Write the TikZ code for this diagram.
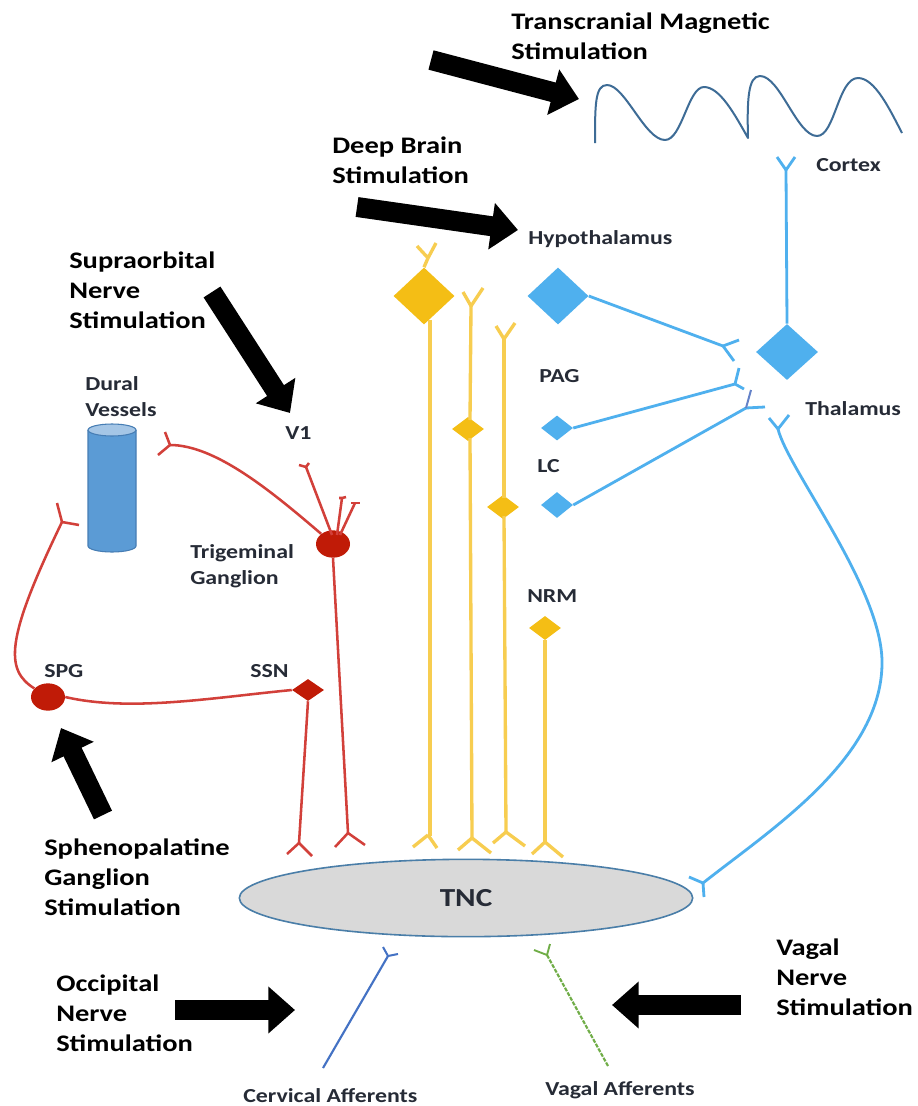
\documentclass[tikz,border=0pt]{standalone}
\usepackage{fontspec}
\setmainfont[FakeStretch=1.2]{Carlito}
\usetikzlibrary{arrows.meta,shapes.geometric,calc}
\definecolor{axon}{HTML}{4FB0EE}
\definecolor{gold}{HTML}{F4BE15}
\definecolor{goldl}{HTML}{F7CD50}
\definecolor{redd}{HTML}{C01B07}
\definecolor{redl}{HTML}{D2403A}
\definecolor{txt}{HTML}{262B36}
\definecolor{wave}{HTML}{3E6C96}
\definecolor{tncedge}{HTML}{4A7EA8}
\definecolor{tncfill}{HTML}{D9D9D9}
\definecolor{cyl}{HTML}{5B9BD5}
\definecolor{cyle}{HTML}{467DB4}
\definecolor{cylt}{HTML}{A5C6E6}
\definecolor{cerv}{HTML}{4472C4}
\definecolor{vaga}{HTML}{70AD47}
\definecolor{purp}{HTML}{6482C8}
\tikzset{
 x=0.75pt,y=-0.75pt,
 big/.style={font=\fontsize{17.8}{22.5}\selectfont\bfseries,text=black,align=left,anchor=west,inner sep=0pt},
 small/.style={font=\fontsize{14.9}{19.5}\selectfont\bfseries,text=txt,align=left,anchor=west,inner sep=0pt},
 blockarrow/.style={line width=15pt,draw=black,-{Triangle[length=20pt,width=34pt]}},
 yline/.style={draw=goldl,line width=2.5pt},
 bline/.style={draw=axon,line width=2.1pt},
 rline/.style={draw=redl,line width=1.9pt},
 dia/.style 2 args={diamond,draw=none,inner sep=0pt,minimum width=#1*0.75pt,minimum height=#2*0.75pt},
 ydia/.style 2 args={dia={#1}{#2},fill=gold},
 bdia/.style 2 args={dia={#1}{#2},fill=axon},
 rdia/.style 2 args={dia={#1}{#2},fill=redd},
 redball/.style={ellipse,fill=redd,draw=none,minimum width=25.5pt,minimum height=20.5pt,inner sep=0pt},
}
\newcommand{\fork}[4]{\draw[#1] (#2) -- (#3) (#2) -- (#4);}
\begin{document}
\begin{tikzpicture}
\useasboundingbox (0,0) rectangle (917,1106);
\fill[white] (0,0) rectangle (917,1106);

% block arrows
\coordinate (a1s) at (431,60); \coordinate (a1e) at (579,99);
\coordinate (a2s) at (357,207); \coordinate (a2e) at (518,230);
\coordinate (a3s) at (212,292); \coordinate (a3e) at (290,413);
\coordinate (a4s) at (103,815); \coordinate (a4e) at (61,728);
\coordinate (a5s) at (175,1010); \coordinate (a5e) at (295,1010);
\coordinate (a6s) at (741,1005); \coordinate (a6e) at (612,1005);
\foreach \n in {1,...,6} \draw[blockarrow] (a\n s) -- (a\n e);

% cortex wave
\draw[draw=wave,line width=1.5pt,line join=round]
 (595,143) .. controls (595,105) and (595,85) .. (607,85)
 .. controls (625,85) and (645,140) .. (665,140)
 .. controls (682,140) and (688,87) .. (704,87)
 .. controls (720,87) and (735,115) .. (748,138)
 .. controls (747,100) and (748,76) .. (760,76)
 .. controls (780,76) and (797,136) .. (817,136)
 .. controls (835,136) and (838,78) .. (858,78)
 .. controls (875,78) and (890,110) .. (902,133);

% TNC
\node[ellipse,draw=tncedge,fill=tncfill,line width=1.2pt,minimum width=340pt,minimum height=58pt,inner sep=0pt,font=\fontsize{19.5}{20}\selectfont\bfseries,text=txt] (tnc) at (466,898) {TNC};

% cylinder
\fill[cyl] (88,430) -- (88,546) arc[start angle=180,end angle=0,x radius=24,y radius=6] -- (136,430) -- cycle;
\draw[cyle,line width=.8pt] (88,430) -- (88,546) arc[start angle=180,end angle=0,x radius=24,y radius=6] -- (136,430);
\draw[cyle,fill=cylt,line width=.8pt] (112,430) ellipse[x radius=24,y radius=6];

% yellow neurons
\node[ydia={61}{57}] (ya) at (424,296) {};
\node[ydia={32}{24}] (yb) at (468,429) {};
\node[ydia={32}{24}] (yc) at (503,507) {};
\node[ydia={32}{24}] (yd) at (545,628) {};
\coordinate (ya1) at (428,258); \coordinate (ya2) at (430,836);
\coordinate (yb1) at (471,306); \coordinate (yb2) at (472,838);
\coordinate (yc1) at (504,339); \coordinate (yc2) at (506,832);
\coordinate (yd2) at (545,842);
\draw[yline] (ya.north) -- (ya1);
\draw[yline] (430,320) -- (ya2);
\draw[yline] (yb1) -- (470,420);
\draw[yline] (470,438) -- (yb2);
\draw[yline] (yc1) -- (504,498);
\draw[yline] (504,516) -- (yc2);
\draw[yline] (yd.south) -- (yd2);
\fork{yline}{ya1}{417,246}{436,243}
\fork{yline}{428,835}{413,847}{437,848}
\fork{yline}{yb1}{463,292}{483,288}
\fork{yline}{yb2}{458,850}{491,853}
\fork{yline}{yc1}{496,326}{515,323}
\fork{yline}{yc2}{493,843}{525,846}
\fork{yline}{yd2}{532,854}{563,857}

% blue neurons
\node[bdia={61}{57}] (ba) at (558,296) {};
\node[bdia={32}{25}] (bb) at (557,428) {};
\node[bdia={32}{26}] (bc) at (557,505) {};
\node[bdia={62}{56}] (bd) at (787,352) {};
\coordinate (ba1) at (723,346); \coordinate (bb1) at (735,384); \coordinate (bc1) at (746,408);
\coordinate (bd1) at (786,170); \coordinate (bd2) at (778,429); \coordinate (bd3) at (703,883);
\draw[bline] (ba.east) -- (ba1);
\draw[bline] (bb.east) -- (bb1);
\draw[bline] (bc.east) -- (bc1);
\draw[bline] (bd.north) -- (bd1);
\draw[bline] (bd2) .. controls (788,470) and (884,590) .. (882,665) .. controls (880,760) and (770,830) .. (bd3);
\fork{bline}{ba1}{739,340}{734,361}
\fork{bline}{bb1}{739,368}{744,389}
\draw[bline] (bc1) -- (765,407);
\draw[purp,line width=1.5pt] (bc1) -- (751,390);
\fork{bline}{bd1}{777,157}{795,157}
\fork{bline}{bd2}{769,418}{789,415}
\fork{bline}{bd3}{689,877}{704,897}

% red neurons
\node[redball] (tg) at (333,544) {};
\node[redball] (spg) at (48,697) {};
\node[rdia={32}{22}] (ssn) at (308,690) {};
\coordinate (r1) at (170,445); \coordinate (r2) at (306,467); \coordinate (r3) at (342,498); \coordinate (r4) at (355,503);
\coordinate (r5) at (348,833); \coordinate (r6) at (299,843); \coordinate (r7) at (62,522);
\draw[rline] (tg) .. controls (270,490) and (215,445) .. (r1);
\draw[rline] (332,535) -- (r2);
\draw[rline] (337,535) -- (r3);
\draw[rline] (340,535) -- (r4);
\draw[rline] (tg.south) -- (r5);
\draw[rline] (ssn.south) -- (r6);
\draw[rline] (ssn.west) .. controls (210,698) and (130,712) .. (spg.east);
\draw[rline] (spg) .. controls (5,670) and (5,640) .. (r7);
\fork{rline}{r1}{165,432}{158,455}
\fork{rline}{r2}{299,465}{309,463}
\fork{rline}{r3}{339,498}{346,497}
\fork{rline}{r4}{351,503}{360,503}
\fork{rline}{r5}{335,847}{365,845}
\fork{rline}{r6}{287,854}{312,856}
\fork{rline}{r7}{57,503}{79,525}

% afferents
\coordinate (c0) at (323,1068); \coordinate (c1) at (388,956);
\coordinate (v0) at (608,1066); \coordinate (v1) at (547,955);
\draw[cerv,line width=1.6pt] (c0) -- (c1);
\fork{cerv,line width=1.5pt}{c1}{383,947}{398,954}
\draw[vaga,line width=1.6pt,dash pattern=on 3pt off 1pt] (v0) -- (v1);
\fork{vaga,line width=1.4pt}{v1}{534,950}{550,944}

% labels
\node[big] (l1) at (511,36) {Transcranial Magnetic\\Stimulation};
\node[big] (l2) at (332,160) {Deep Brain\\Stimulation};
\node[big] (l3) at (69,290) {Supraorbital\\Nerve\\Stimulation};
\node[big] (l4) at (44,877) {Sphenopalatine\\Ganglion\\Stimulation};
\node[big] (l5) at (56,1013) {Occipital\\Nerve\\Stimulation};
\node[big] (l6) at (776,977) {Vagal\\Nerve\\Stimulation};
\node[small] (s1) at (85,397) {Dural\\Vessels};
\node[small] (s2) at (285,433) {V1};
\node[small] (s3) at (190,566) {Trigeminal\\Ganglion};
\node[small] (s4) at (44,671) {SPG};
\node[small] (s5) at (250,671) {SSN};
\node[small] (s6) at (528,239) {Hypothalamus};
\node[small] (s7) at (539,376) {PAG};
\node[small] (s8) at (537,466) {LC};
\node[small] (s9) at (527,596) {NRM};
\node[small] (s10) at (805,409) {Thalamus};
\node[small] (s11) at (816,165) {Cortex};
\node[small] (s12) at (243,1096) {Cervical Afferents};
\node[small] (s13) at (545,1090) {Vagal Afferents};
\end{tikzpicture}
\end{document}
